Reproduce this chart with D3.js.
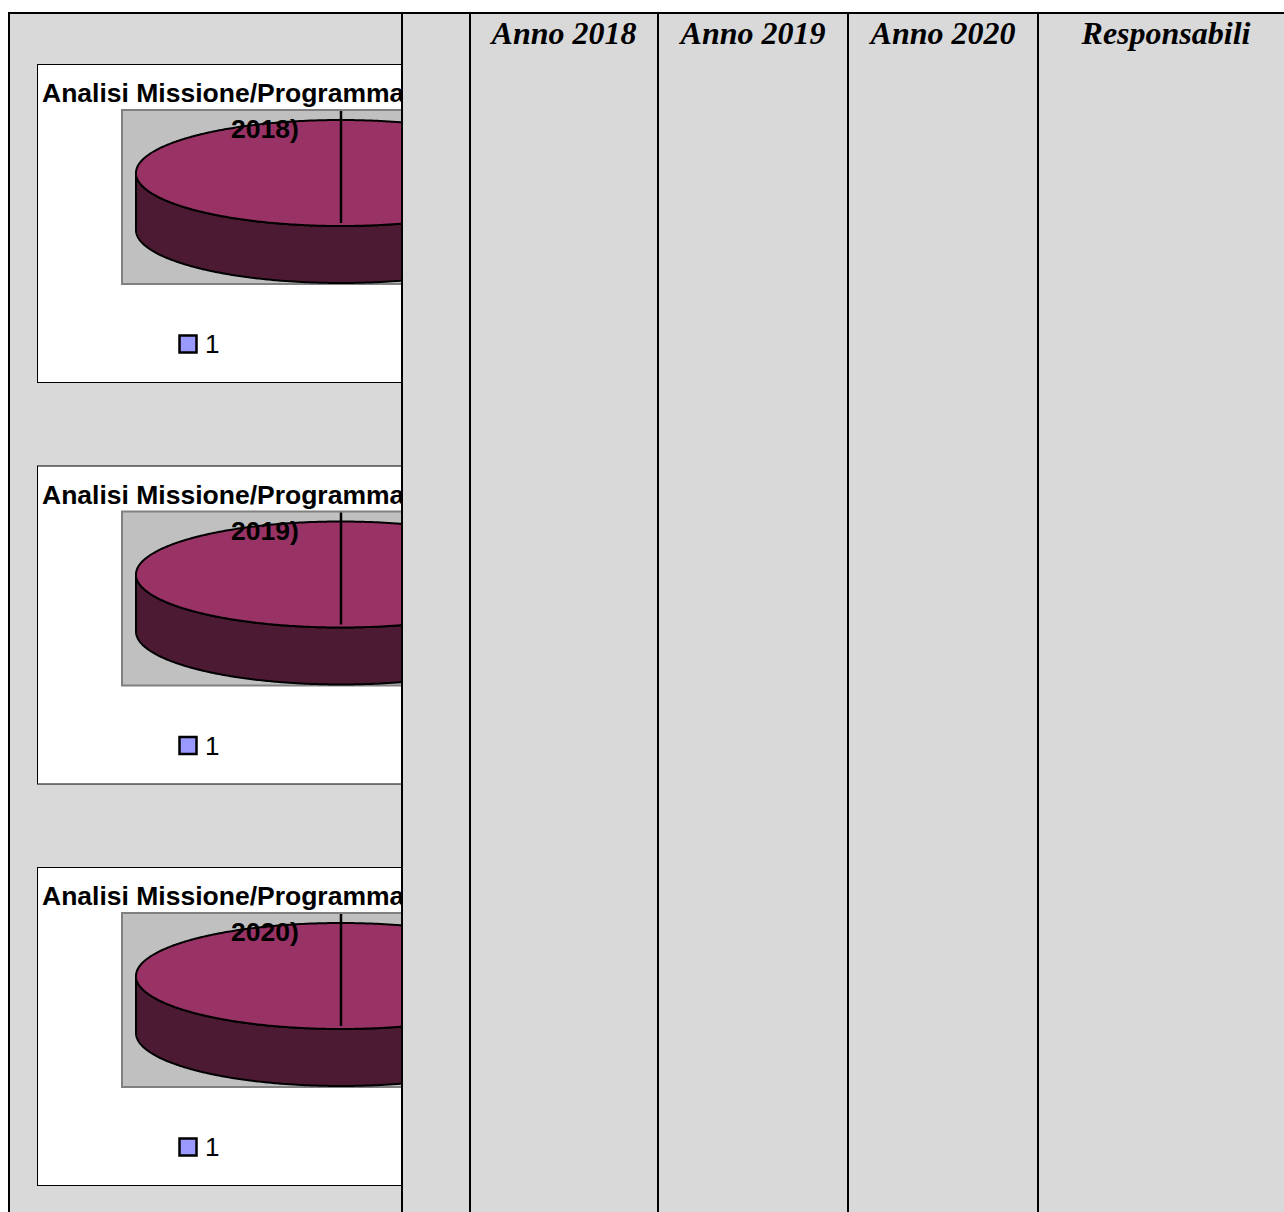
<!DOCTYPE html>
<html>
<head>
<meta charset="utf-8">
<script src="https://d3js.org/d3.v7.min.js"></script>
<style>
  html, body { margin: 0; padding: 0; background: #fff; }
  svg { display: block; }
</style>
</head>
<body>
<div id="chart"></div>
<script>
// table header labels
var headers = ["", "", "Anno 2018", "Anno 2019", "Anno 2020", "Responsabili"];
// one pie per year, each with a single slice
var years = ["2018", "2019", "2020"];
var pieValues2018 = [1],
    pieValues2019 = [1],
    pieValues2020 = [1];
var legendLabels = ["1"];
var chartTitle = "Analisi Missione/Programma";

var width = 1284, height = 1212;

var svg = d3.select("#chart")
  .append("svg")
  .attr("width", width)
  .attr("height", height);

// column edges of the table
var colEdges = [9, 402, 470, 658, 848, 1038, 1294],
    tableTop = 13;

// gray table background
svg.append("rect")
  .attr("x", colEdges[0])
  .attr("y", tableTop)
  .attr("width", width - colEdges[0])
  .attr("height", height - tableTop)
  .attr("fill", "#d9d9d9");

// header texts
svg.selectAll("text.header")
  .data(headers)
  .enter().append("text")
  .attr("class", "header")
  .attr("x", function(d, i) {
    if (i === headers.length - 1) return 1166;
    return (colEdges[i] + colEdges[i + 1]) / 2;
  })
  .attr("y", 44)
  .attr("text-anchor", "middle")
  .style("font-family", "'Liberation Serif', 'Times New Roman', serif")
  .style("font-weight", "bold")
  .style("font-style", "italic")
  .style("font-size", "32px")
  .attr("fill", "#000")
  .text(function(d) { return d; });

// clip for the first column
svg.append("clipPath")
  .attr("id", "col1clip")
  .append("rect")
  .attr("x", colEdges[0])
  .attr("y", tableTop)
  .attr("width", colEdges[1] - colEdges[0])
  .attr("height", height - tableTop);

var charts = svg.append("g").attr("clip-path", "url(#col1clip)");

var pie = d3.pie().sort(null).value(function(d) { return d; });
var allPies = [pieValues2018, pieValues2019, pieValues2020];

// geometry of one chart box
var box = {x: 37, w: 456, h: 318},
  plot = {dx: 85, dy: 46, w: 420, h: 174},
  pc = {dx: 304, dy: 109, rx: 205, ry: 53, depth: 57};

var boxTop = d3.scaleLinear().domain([0, 1]).range([64, 465.5]);

function ellipsePoint(cx, cy, a, dy) {
  return [cx + pc.rx * Math.sin(a), cy - pc.ry * Math.cos(a) + (dy || 0)];
}

years.forEach(function(year, i) {
  var top = boxTop(i),
    g = charts.append("g");

  // chart box
  g.append("rect")
    .attr("x", box.x + 0.5)
    .attr("y", top + 0.5)
    .attr("width", box.w)
    .attr("height", box.h)
    .attr("fill", "#fff")
    .attr("stroke", "#000")
    .attr("stroke-width", 1);

  // plot area
  g.append("rect")
    .attr("x", box.x + plot.dx)
    .attr("y", top + plot.dy)
    .attr("width", plot.w)
    .attr("height", plot.h)
    .attr("fill", "#c0c0c0")
    .attr("stroke", "#808080")
    .attr("stroke-width", 2);

  var cx = box.x + pc.dx, cy = top + pc.dy;
  var slices = pie(allPies[i]);
  var line = d3.line();

  slices.forEach(function(s) {
    // side wall (front half only)
    var a0 = Math.max(s.startAngle, Math.PI / 2),
      a1 = Math.min(s.endAngle, Math.PI * 1.5);
    if (a1 > a0) {
      var angs = d3.range(a0, a1, 0.01).concat([a1]);
      var upper = angs.map(function(a) { return ellipsePoint(cx, cy, a); }),
        lower = angs.slice().reverse().map(function(a) { return ellipsePoint(cx, cy, a, pc.depth); });
      g.append("path")
        .attr("d", line(upper.concat(lower)) + "Z")
        .attr("fill", "#4d1a33")
        .attr("stroke", "#000")
        .attr("stroke-width", 2)
        .attr("stroke-linejoin", "round");
    }
    // top face
    var tangs = d3.range(s.startAngle, s.endAngle, 0.01).concat([s.endAngle]);
    var pts = tangs.map(function(a) { return ellipsePoint(cx, cy, a); });
    if (s.endAngle - s.startAngle < 2 * Math.PI - 1e-6) pts.push([cx, cy]);
    g.append("path")
      .attr("d", line(pts) + "Z")
      .attr("fill", "#993366")
      .attr("stroke", "#000")
      .attr("stroke-width", 2);
  });

  // slice seam line
  g.append("line")
    .attr("x1", cx).attr("x2", cx)
    .attr("y1", top + plot.dy + 1)
    .attr("y2", cy + pc.ry - 3)
    .attr("stroke", "#000")
    .attr("stroke-width", 2.5);

  // title
  var title = g.append("text")
    .attr("x", 42)
    .attr("y", top + 38)
    .style("font-family", "'Liberation Sans', Arial, sans-serif")
    .style("font-weight", "bold")
    .style("font-size", "26.5px")
    .attr("fill", "#000");
  title.append("tspan").attr("x", 42).text(chartTitle);
  title.append("tspan")
    .attr("x", 265)
    .attr("y", top + 74)
    .attr("text-anchor", "middle")
    .text(year + ")");

  // legend
  var leg = g.selectAll("g.legend")
    .data(legendLabels)
    .enter().append("g")
    .attr("class", "legend");
  leg.append("rect")
    .attr("x", 179.5)
    .attr("y", top + 271.5)
    .attr("width", 17)
    .attr("height", 17)
    .attr("fill", "#9999ff")
    .attr("stroke", "#000")
    .attr("stroke-width", 2.5);
  leg.append("text")
    .attr("x", 205)
    .attr("y", top + 289)
    .style("font-family", "'Liberation Sans', Arial, sans-serif")
    .style("font-size", "26px")
    .attr("fill", "#000")
    .text(function(d) { return d; });
});

// table lines
svg.append("line")
  .attr("x1", 8).attr("x2", width)
  .attr("y1", tableTop).attr("y2", tableTop)
  .attr("stroke", "#000").attr("stroke-width", 2);

svg.selectAll("line.col")
  .data(colEdges.slice(0, 6))
  .enter().append("line")
  .attr("class", "col")
  .attr("x1", function(d) { return d; })
  .attr("x2", function(d) { return d; })
  .attr("y1", tableTop - 1)
  .attr("y2", height)
  .attr("stroke", "#000")
  .attr("stroke-width", 2);
</script>
</body>
</html>
